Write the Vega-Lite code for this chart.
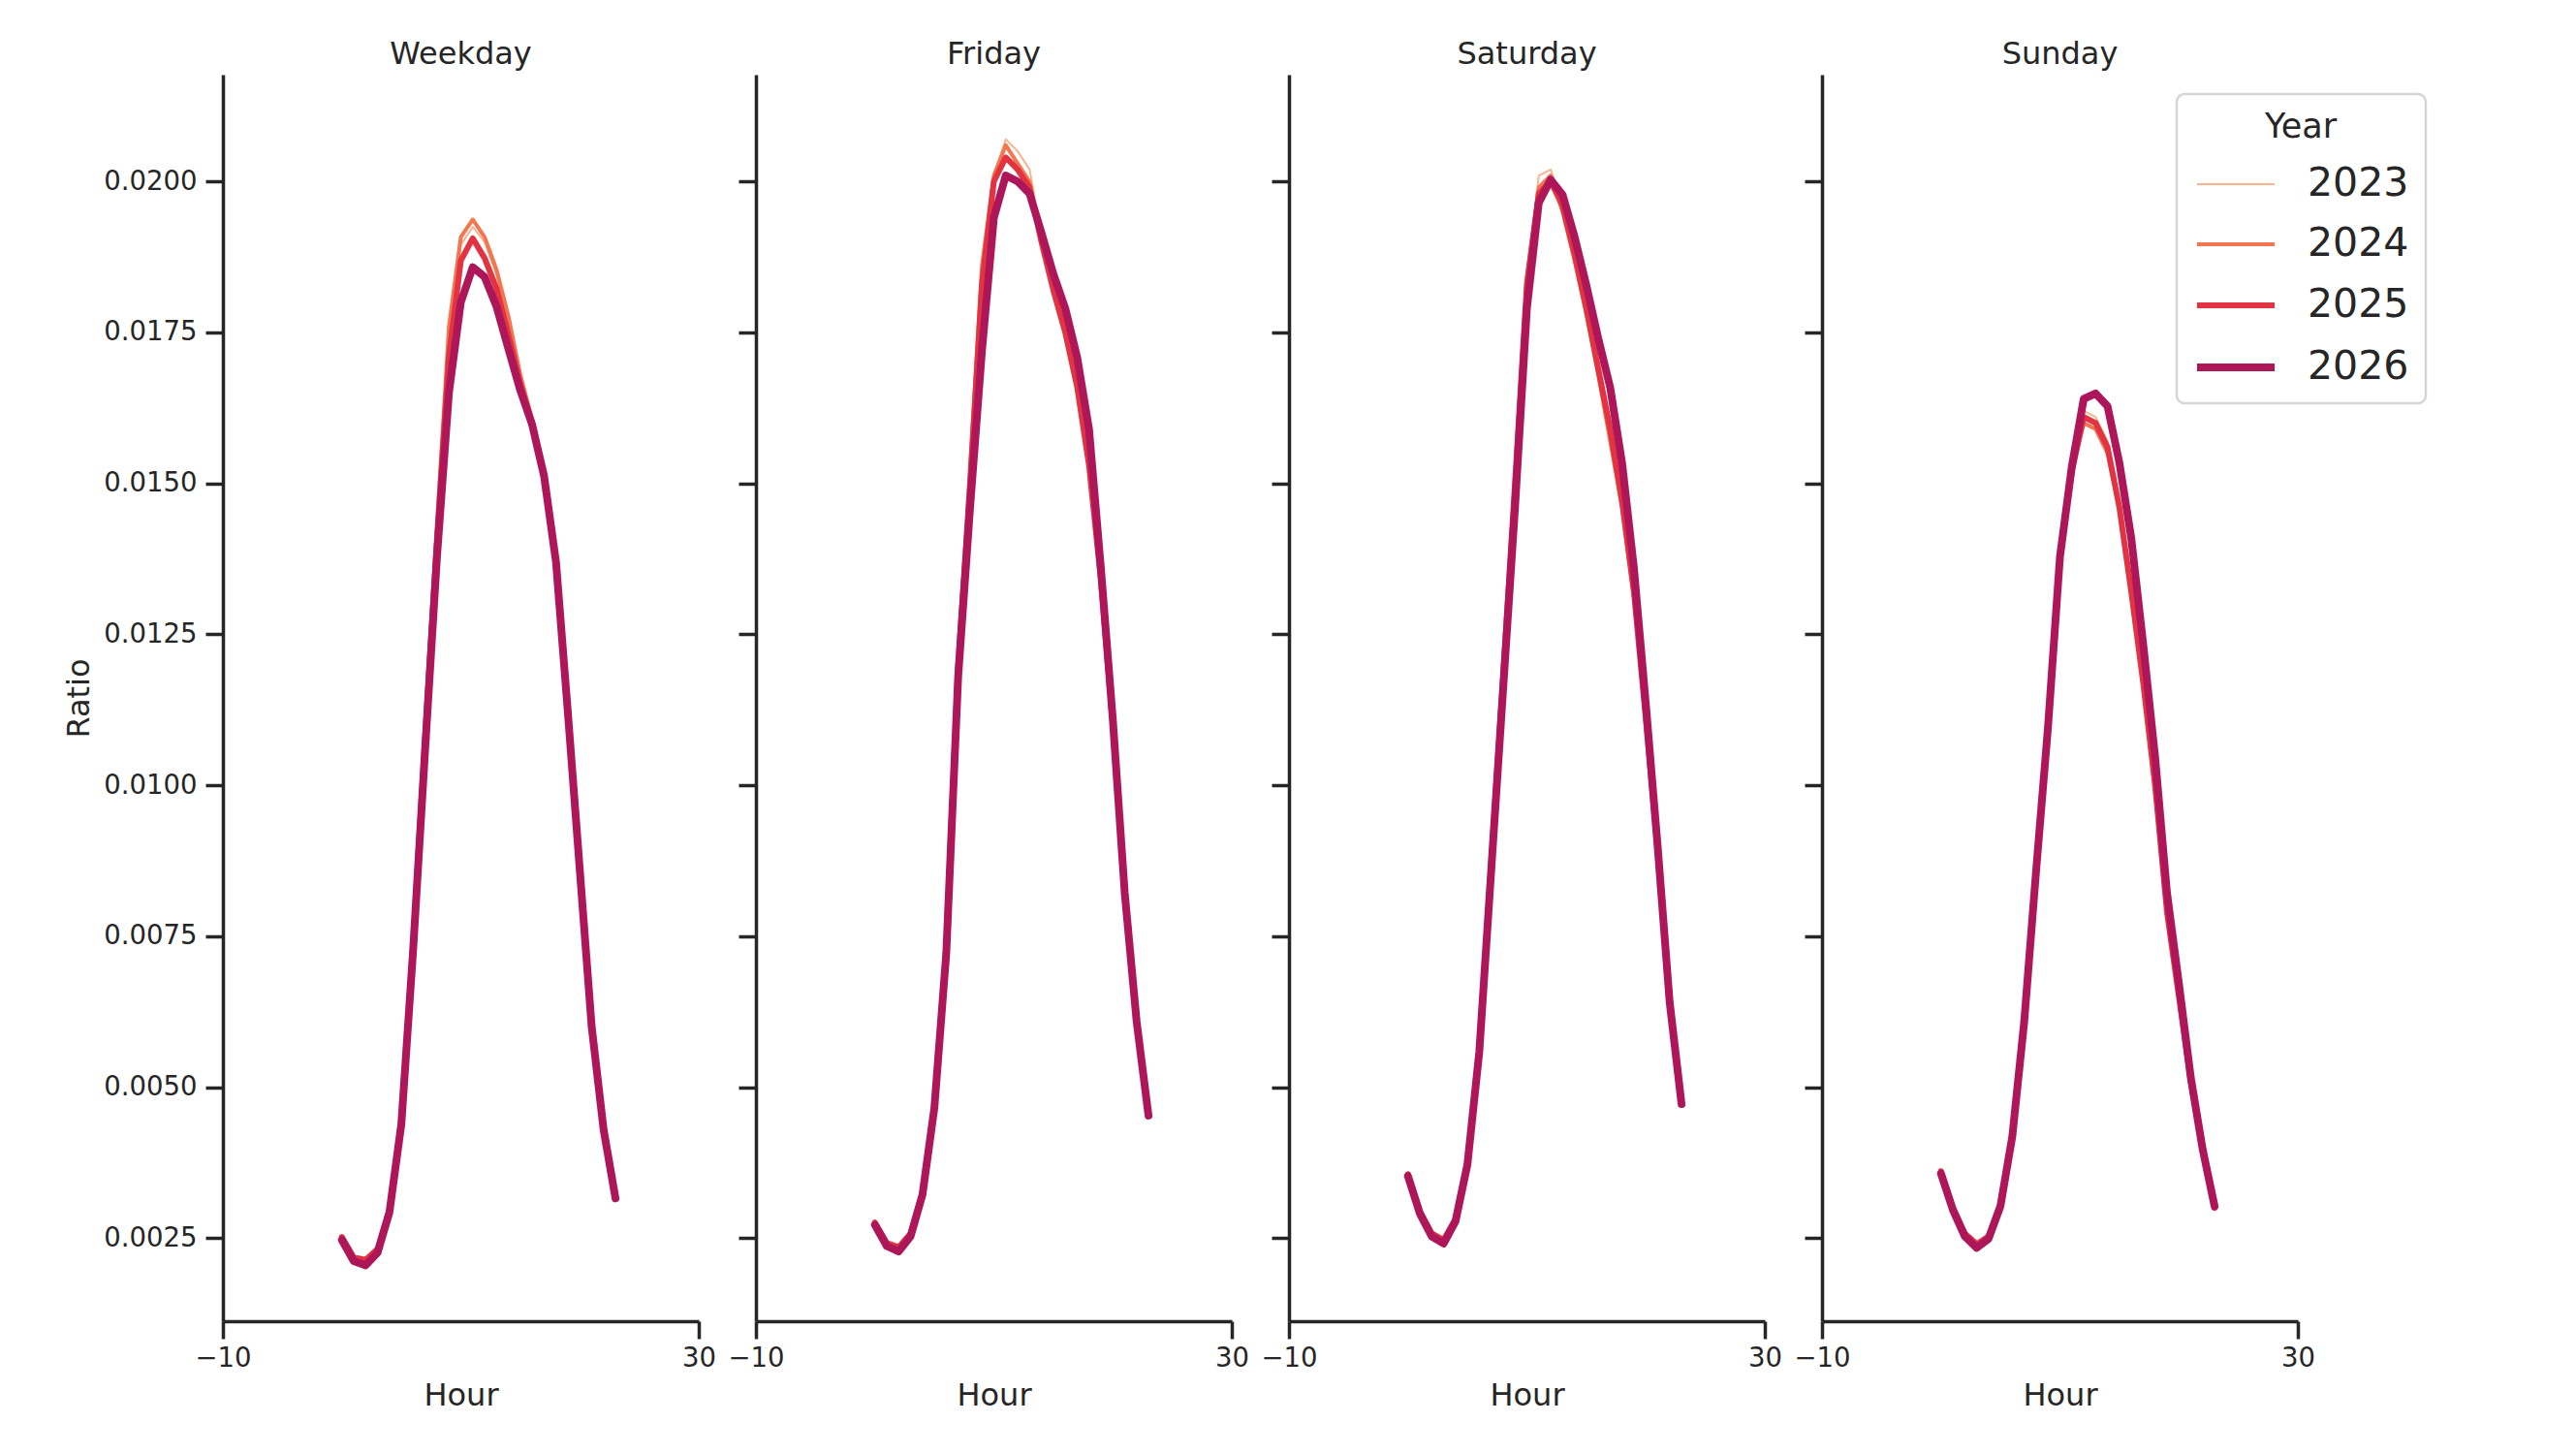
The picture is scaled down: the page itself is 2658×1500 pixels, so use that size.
{
  "$schema": "https://vega.github.io/schema/vega-lite/v6.json",
  "autosize": {"type": "none"},
  "padding": {"left": 230, "top": 77, "right": 2428, "bottom": 1423},
  "background": "white",
  "data": {
    "values": [
      {"Day": "Weekday", "Year": 2023, "Hour": 0, "Ratio": 0.00251}, {"Day": "Weekday", "Year": 2023, "Hour": 1, "Ratio": 0.00217}, {"Day": "Weekday", "Year": 2023, "Hour": 2, "Ratio": 0.00213}, {"Day": "Weekday", "Year": 2023, "Hour": 3, "Ratio": 0.00231}, {"Day": "Weekday", "Year": 2023, "Hour": 4, "Ratio": 0.00297}, {"Day": "Weekday", "Year": 2023, "Hour": 5, "Ratio": 0.00441}, {"Day": "Weekday", "Year": 2023, "Hour": 6, "Ratio": 0.0075}, {"Day": "Weekday", "Year": 2023, "Hour": 7, "Ratio": 0.0109}, {"Day": "Weekday", "Year": 2023, "Hour": 8, "Ratio": 0.0142}, {"Day": "Weekday", "Year": 2023, "Hour": 9, "Ratio": 0.0174}, {"Day": "Weekday", "Year": 2023, "Hour": 10, "Ratio": 0.01895}, {"Day": "Weekday", "Year": 2023, "Hour": 11, "Ratio": 0.01925}, {"Day": "Weekday", "Year": 2023, "Hour": 12, "Ratio": 0.019}, {"Day": "Weekday", "Year": 2023, "Hour": 13, "Ratio": 0.01845}, {"Day": "Weekday", "Year": 2023, "Hour": 14, "Ratio": 0.0177}, {"Day": "Weekday", "Year": 2023, "Hour": 15, "Ratio": 0.01675}, {"Day": "Weekday", "Year": 2023, "Hour": 16, "Ratio": 0.01603}, {"Day": "Weekday", "Year": 2023, "Hour": 17, "Ratio": 0.01514}, {"Day": "Weekday", "Year": 2023, "Hour": 18, "Ratio": 0.0137}, {"Day": "Weekday", "Year": 2023, "Hour": 19, "Ratio": 0.0112}, {"Day": "Weekday", "Year": 2023, "Hour": 20, "Ratio": 0.0086}, {"Day": "Weekday", "Year": 2023, "Hour": 21, "Ratio": 0.006}, {"Day": "Weekday", "Year": 2023, "Hour": 22, "Ratio": 0.0043}, {"Day": "Weekday", "Year": 2023, "Hour": 23, "Ratio": 0.00317},
      {"Day": "Weekday", "Year": 2024, "Hour": 0, "Ratio": 0.0025}, {"Day": "Weekday", "Year": 2024, "Hour": 1, "Ratio": 0.00216}, {"Day": "Weekday", "Year": 2024, "Hour": 2, "Ratio": 0.00212}, {"Day": "Weekday", "Year": 2024, "Hour": 3, "Ratio": 0.0023}, {"Day": "Weekday", "Year": 2024, "Hour": 4, "Ratio": 0.00296}, {"Day": "Weekday", "Year": 2024, "Hour": 5, "Ratio": 0.0044}, {"Day": "Weekday", "Year": 2024, "Hour": 6, "Ratio": 0.0075}, {"Day": "Weekday", "Year": 2024, "Hour": 7, "Ratio": 0.011}, {"Day": "Weekday", "Year": 2024, "Hour": 8, "Ratio": 0.0143}, {"Day": "Weekday", "Year": 2024, "Hour": 9, "Ratio": 0.0176}, {"Day": "Weekday", "Year": 2024, "Hour": 10, "Ratio": 0.01908}, {"Day": "Weekday", "Year": 2024, "Hour": 11, "Ratio": 0.01937}, {"Day": "Weekday", "Year": 2024, "Hour": 12, "Ratio": 0.01908}, {"Day": "Weekday", "Year": 2024, "Hour": 13, "Ratio": 0.01854}, {"Day": "Weekday", "Year": 2024, "Hour": 14, "Ratio": 0.01777}, {"Day": "Weekday", "Year": 2024, "Hour": 15, "Ratio": 0.0168}, {"Day": "Weekday", "Year": 2024, "Hour": 16, "Ratio": 0.01605}, {"Day": "Weekday", "Year": 2024, "Hour": 17, "Ratio": 0.01515}, {"Day": "Weekday", "Year": 2024, "Hour": 18, "Ratio": 0.0137}, {"Day": "Weekday", "Year": 2024, "Hour": 19, "Ratio": 0.0112}, {"Day": "Weekday", "Year": 2024, "Hour": 20, "Ratio": 0.0086}, {"Day": "Weekday", "Year": 2024, "Hour": 21, "Ratio": 0.006}, {"Day": "Weekday", "Year": 2024, "Hour": 22, "Ratio": 0.0043}, {"Day": "Weekday", "Year": 2024, "Hour": 23, "Ratio": 0.00318},
      {"Day": "Weekday", "Year": 2025, "Hour": 0, "Ratio": 0.00252}, {"Day": "Weekday", "Year": 2025, "Hour": 1, "Ratio": 0.00218}, {"Day": "Weekday", "Year": 2025, "Hour": 2, "Ratio": 0.00214}, {"Day": "Weekday", "Year": 2025, "Hour": 3, "Ratio": 0.00232}, {"Day": "Weekday", "Year": 2025, "Hour": 4, "Ratio": 0.00297}, {"Day": "Weekday", "Year": 2025, "Hour": 5, "Ratio": 0.00442}, {"Day": "Weekday", "Year": 2025, "Hour": 6, "Ratio": 0.0074}, {"Day": "Weekday", "Year": 2025, "Hour": 7, "Ratio": 0.0108}, {"Day": "Weekday", "Year": 2025, "Hour": 8, "Ratio": 0.0141}, {"Day": "Weekday", "Year": 2025, "Hour": 9, "Ratio": 0.0171}, {"Day": "Weekday", "Year": 2025, "Hour": 10, "Ratio": 0.01869}, {"Day": "Weekday", "Year": 2025, "Hour": 11, "Ratio": 0.01906}, {"Day": "Weekday", "Year": 2025, "Hour": 12, "Ratio": 0.01873}, {"Day": "Weekday", "Year": 2025, "Hour": 13, "Ratio": 0.01823}, {"Day": "Weekday", "Year": 2025, "Hour": 14, "Ratio": 0.01746}, {"Day": "Weekday", "Year": 2025, "Hour": 15, "Ratio": 0.01665}, {"Day": "Weekday", "Year": 2025, "Hour": 16, "Ratio": 0.016}, {"Day": "Weekday", "Year": 2025, "Hour": 17, "Ratio": 0.01512}, {"Day": "Weekday", "Year": 2025, "Hour": 18, "Ratio": 0.0137}, {"Day": "Weekday", "Year": 2025, "Hour": 19, "Ratio": 0.0112}, {"Day": "Weekday", "Year": 2025, "Hour": 20, "Ratio": 0.0086}, {"Day": "Weekday", "Year": 2025, "Hour": 21, "Ratio": 0.006}, {"Day": "Weekday", "Year": 2025, "Hour": 22, "Ratio": 0.0043}, {"Day": "Weekday", "Year": 2025, "Hour": 23, "Ratio": 0.00318},
      {"Day": "Weekday", "Year": 2026, "Hour": 0, "Ratio": 0.00247}, {"Day": "Weekday", "Year": 2026, "Hour": 1, "Ratio": 0.00212}, {"Day": "Weekday", "Year": 2026, "Hour": 2, "Ratio": 0.00205}, {"Day": "Weekday", "Year": 2026, "Hour": 3, "Ratio": 0.00226}, {"Day": "Weekday", "Year": 2026, "Hour": 4, "Ratio": 0.00293}, {"Day": "Weekday", "Year": 2026, "Hour": 5, "Ratio": 0.00439}, {"Day": "Weekday", "Year": 2026, "Hour": 6, "Ratio": 0.0073}, {"Day": "Weekday", "Year": 2026, "Hour": 7, "Ratio": 0.0106}, {"Day": "Weekday", "Year": 2026, "Hour": 8, "Ratio": 0.0138}, {"Day": "Weekday", "Year": 2026, "Hour": 9, "Ratio": 0.0165}, {"Day": "Weekday", "Year": 2026, "Hour": 10, "Ratio": 0.018}, {"Day": "Weekday", "Year": 2026, "Hour": 11, "Ratio": 0.01858}, {"Day": "Weekday", "Year": 2026, "Hour": 12, "Ratio": 0.01842}, {"Day": "Weekday", "Year": 2026, "Hour": 13, "Ratio": 0.01793}, {"Day": "Weekday", "Year": 2026, "Hour": 14, "Ratio": 0.01723}, {"Day": "Weekday", "Year": 2026, "Hour": 15, "Ratio": 0.01654}, {"Day": "Weekday", "Year": 2026, "Hour": 16, "Ratio": 0.01597}, {"Day": "Weekday", "Year": 2026, "Hour": 17, "Ratio": 0.01512}, {"Day": "Weekday", "Year": 2026, "Hour": 18, "Ratio": 0.0137}, {"Day": "Weekday", "Year": 2026, "Hour": 19, "Ratio": 0.0112}, {"Day": "Weekday", "Year": 2026, "Hour": 20, "Ratio": 0.0086}, {"Day": "Weekday", "Year": 2026, "Hour": 21, "Ratio": 0.006}, {"Day": "Weekday", "Year": 2026, "Hour": 22, "Ratio": 0.0043}, {"Day": "Weekday", "Year": 2026, "Hour": 23, "Ratio": 0.00316},
      {"Day": "Friday", "Year": 2023, "Hour": 0, "Ratio": 0.00274}, {"Day": "Friday", "Year": 2023, "Hour": 1, "Ratio": 0.0024}, {"Day": "Friday", "Year": 2023, "Hour": 2, "Ratio": 0.00233}, {"Day": "Friday", "Year": 2023, "Hour": 3, "Ratio": 0.00256}, {"Day": "Friday", "Year": 2023, "Hour": 4, "Ratio": 0.00324}, {"Day": "Friday", "Year": 2023, "Hour": 5, "Ratio": 0.00468}, {"Day": "Friday", "Year": 2023, "Hour": 6, "Ratio": 0.0073}, {"Day": "Friday", "Year": 2023, "Hour": 7, "Ratio": 0.0121}, {"Day": "Friday", "Year": 2023, "Hour": 8, "Ratio": 0.0152}, {"Day": "Friday", "Year": 2023, "Hour": 9, "Ratio": 0.0187}, {"Day": "Friday", "Year": 2023, "Hour": 10, "Ratio": 0.0201}, {"Day": "Friday", "Year": 2023, "Hour": 11, "Ratio": 0.0207}, {"Day": "Friday", "Year": 2023, "Hour": 12, "Ratio": 0.0205}, {"Day": "Friday", "Year": 2023, "Hour": 13, "Ratio": 0.0202}, {"Day": "Friday", "Year": 2023, "Hour": 14, "Ratio": 0.0191}, {"Day": "Friday", "Year": 2023, "Hour": 15, "Ratio": 0.0182}, {"Day": "Friday", "Year": 2023, "Hour": 16, "Ratio": 0.0175}, {"Day": "Friday", "Year": 2023, "Hour": 17, "Ratio": 0.0165}, {"Day": "Friday", "Year": 2023, "Hour": 18, "Ratio": 0.0152}, {"Day": "Friday", "Year": 2023, "Hour": 19, "Ratio": 0.0134}, {"Day": "Friday", "Year": 2023, "Hour": 20, "Ratio": 0.011}, {"Day": "Friday", "Year": 2023, "Hour": 21, "Ratio": 0.0082}, {"Day": "Friday", "Year": 2023, "Hour": 22, "Ratio": 0.0061}, {"Day": "Friday", "Year": 2023, "Hour": 23, "Ratio": 0.00454},
      {"Day": "Friday", "Year": 2024, "Hour": 0, "Ratio": 0.00275}, {"Day": "Friday", "Year": 2024, "Hour": 1, "Ratio": 0.00241}, {"Day": "Friday", "Year": 2024, "Hour": 2, "Ratio": 0.00234}, {"Day": "Friday", "Year": 2024, "Hour": 3, "Ratio": 0.00257}, {"Day": "Friday", "Year": 2024, "Hour": 4, "Ratio": 0.00325}, {"Day": "Friday", "Year": 2024, "Hour": 5, "Ratio": 0.00469}, {"Day": "Friday", "Year": 2024, "Hour": 6, "Ratio": 0.0073}, {"Day": "Friday", "Year": 2024, "Hour": 7, "Ratio": 0.0121}, {"Day": "Friday", "Year": 2024, "Hour": 8, "Ratio": 0.0152}, {"Day": "Friday", "Year": 2024, "Hour": 9, "Ratio": 0.0186}, {"Day": "Friday", "Year": 2024, "Hour": 10, "Ratio": 0.0201}, {"Day": "Friday", "Year": 2024, "Hour": 11, "Ratio": 0.0206}, {"Day": "Friday", "Year": 2024, "Hour": 12, "Ratio": 0.0203}, {"Day": "Friday", "Year": 2024, "Hour": 13, "Ratio": 0.02}, {"Day": "Friday", "Year": 2024, "Hour": 14, "Ratio": 0.019}, {"Day": "Friday", "Year": 2024, "Hour": 15, "Ratio": 0.0182}, {"Day": "Friday", "Year": 2024, "Hour": 16, "Ratio": 0.0175}, {"Day": "Friday", "Year": 2024, "Hour": 17, "Ratio": 0.0166}, {"Day": "Friday", "Year": 2024, "Hour": 18, "Ratio": 0.0153}, {"Day": "Friday", "Year": 2024, "Hour": 19, "Ratio": 0.0134}, {"Day": "Friday", "Year": 2024, "Hour": 20, "Ratio": 0.011}, {"Day": "Friday", "Year": 2024, "Hour": 21, "Ratio": 0.0082}, {"Day": "Friday", "Year": 2024, "Hour": 22, "Ratio": 0.0061}, {"Day": "Friday", "Year": 2024, "Hour": 23, "Ratio": 0.00455},
      {"Day": "Friday", "Year": 2025, "Hour": 0, "Ratio": 0.00276}, {"Day": "Friday", "Year": 2025, "Hour": 1, "Ratio": 0.00242}, {"Day": "Friday", "Year": 2025, "Hour": 2, "Ratio": 0.00235}, {"Day": "Friday", "Year": 2025, "Hour": 3, "Ratio": 0.00258}, {"Day": "Friday", "Year": 2025, "Hour": 4, "Ratio": 0.00326}, {"Day": "Friday", "Year": 2025, "Hour": 5, "Ratio": 0.0047}, {"Day": "Friday", "Year": 2025, "Hour": 6, "Ratio": 0.0073}, {"Day": "Friday", "Year": 2025, "Hour": 7, "Ratio": 0.012}, {"Day": "Friday", "Year": 2025, "Hour": 8, "Ratio": 0.015}, {"Day": "Friday", "Year": 2025, "Hour": 9, "Ratio": 0.0183}, {"Day": "Friday", "Year": 2025, "Hour": 10, "Ratio": 0.02}, {"Day": "Friday", "Year": 2025, "Hour": 11, "Ratio": 0.0204}, {"Day": "Friday", "Year": 2025, "Hour": 12, "Ratio": 0.0202}, {"Day": "Friday", "Year": 2025, "Hour": 13, "Ratio": 0.0199}, {"Day": "Friday", "Year": 2025, "Hour": 14, "Ratio": 0.019}, {"Day": "Friday", "Year": 2025, "Hour": 15, "Ratio": 0.0182}, {"Day": "Friday", "Year": 2025, "Hour": 16, "Ratio": 0.0175}, {"Day": "Friday", "Year": 2025, "Hour": 17, "Ratio": 0.0166}, {"Day": "Friday", "Year": 2025, "Hour": 18, "Ratio": 0.0153}, {"Day": "Friday", "Year": 2025, "Hour": 19, "Ratio": 0.0134}, {"Day": "Friday", "Year": 2025, "Hour": 20, "Ratio": 0.011}, {"Day": "Friday", "Year": 2025, "Hour": 21, "Ratio": 0.0082}, {"Day": "Friday", "Year": 2025, "Hour": 22, "Ratio": 0.0061}, {"Day": "Friday", "Year": 2025, "Hour": 23, "Ratio": 0.00455},
      {"Day": "Friday", "Year": 2026, "Hour": 0, "Ratio": 0.00272}, {"Day": "Friday", "Year": 2026, "Hour": 1, "Ratio": 0.00237}, {"Day": "Friday", "Year": 2026, "Hour": 2, "Ratio": 0.00228}, {"Day": "Friday", "Year": 2026, "Hour": 3, "Ratio": 0.00253}, {"Day": "Friday", "Year": 2026, "Hour": 4, "Ratio": 0.00322}, {"Day": "Friday", "Year": 2026, "Hour": 5, "Ratio": 0.00466}, {"Day": "Friday", "Year": 2026, "Hour": 6, "Ratio": 0.00722}, {"Day": "Friday", "Year": 2026, "Hour": 7, "Ratio": 0.0118}, {"Day": "Friday", "Year": 2026, "Hour": 8, "Ratio": 0.0146}, {"Day": "Friday", "Year": 2026, "Hour": 9, "Ratio": 0.0172}, {"Day": "Friday", "Year": 2026, "Hour": 10, "Ratio": 0.0194}, {"Day": "Friday", "Year": 2026, "Hour": 11, "Ratio": 0.0201}, {"Day": "Friday", "Year": 2026, "Hour": 12, "Ratio": 0.02}, {"Day": "Friday", "Year": 2026, "Hour": 13, "Ratio": 0.0198}, {"Day": "Friday", "Year": 2026, "Hour": 14, "Ratio": 0.01915}, {"Day": "Friday", "Year": 2026, "Hour": 15, "Ratio": 0.01847}, {"Day": "Friday", "Year": 2026, "Hour": 16, "Ratio": 0.0179}, {"Day": "Friday", "Year": 2026, "Hour": 17, "Ratio": 0.01709}, {"Day": "Friday", "Year": 2026, "Hour": 18, "Ratio": 0.0159}, {"Day": "Friday", "Year": 2026, "Hour": 19, "Ratio": 0.01359}, {"Day": "Friday", "Year": 2026, "Hour": 20, "Ratio": 0.01109}, {"Day": "Friday", "Year": 2026, "Hour": 21, "Ratio": 0.00822}, {"Day": "Friday", "Year": 2026, "Hour": 22, "Ratio": 0.00609}, {"Day": "Friday", "Year": 2026, "Hour": 23, "Ratio": 0.00453},
      {"Day": "Saturday", "Year": 2023, "Hour": 0, "Ratio": 0.00355}, {"Day": "Saturday", "Year": 2023, "Hour": 1, "Ratio": 0.00294}, {"Day": "Saturday", "Year": 2023, "Hour": 2, "Ratio": 0.00257}, {"Day": "Saturday", "Year": 2023, "Hour": 3, "Ratio": 0.00246}, {"Day": "Saturday", "Year": 2023, "Hour": 4, "Ratio": 0.00281}, {"Day": "Saturday", "Year": 2023, "Hour": 5, "Ratio": 0.00374}, {"Day": "Saturday", "Year": 2023, "Hour": 6, "Ratio": 0.0056}, {"Day": "Saturday", "Year": 2023, "Hour": 7, "Ratio": 0.0087}, {"Day": "Saturday", "Year": 2023, "Hour": 8, "Ratio": 0.0119}, {"Day": "Saturday", "Year": 2023, "Hour": 9, "Ratio": 0.0151}, {"Day": "Saturday", "Year": 2023, "Hour": 10, "Ratio": 0.0184}, {"Day": "Saturday", "Year": 2023, "Hour": 11, "Ratio": 0.0201}, {"Day": "Saturday", "Year": 2023, "Hour": 12, "Ratio": 0.0202}, {"Day": "Saturday", "Year": 2023, "Hour": 13, "Ratio": 0.0196}, {"Day": "Saturday", "Year": 2023, "Hour": 14, "Ratio": 0.0187}, {"Day": "Saturday", "Year": 2023, "Hour": 15, "Ratio": 0.0178}, {"Day": "Saturday", "Year": 2023, "Hour": 16, "Ratio": 0.0168}, {"Day": "Saturday", "Year": 2023, "Hour": 17, "Ratio": 0.0157}, {"Day": "Saturday", "Year": 2023, "Hour": 18, "Ratio": 0.0146}, {"Day": "Saturday", "Year": 2023, "Hour": 19, "Ratio": 0.0131}, {"Day": "Saturday", "Year": 2023, "Hour": 20, "Ratio": 0.0111}, {"Day": "Saturday", "Year": 2023, "Hour": 21, "Ratio": 0.0089}, {"Day": "Saturday", "Year": 2023, "Hour": 22, "Ratio": 0.0064}, {"Day": "Saturday", "Year": 2023, "Hour": 23, "Ratio": 0.00473},
      {"Day": "Saturday", "Year": 2024, "Hour": 0, "Ratio": 0.00356}, {"Day": "Saturday", "Year": 2024, "Hour": 1, "Ratio": 0.00295}, {"Day": "Saturday", "Year": 2024, "Hour": 2, "Ratio": 0.00258}, {"Day": "Saturday", "Year": 2024, "Hour": 3, "Ratio": 0.00247}, {"Day": "Saturday", "Year": 2024, "Hour": 4, "Ratio": 0.00282}, {"Day": "Saturday", "Year": 2024, "Hour": 5, "Ratio": 0.00375}, {"Day": "Saturday", "Year": 2024, "Hour": 6, "Ratio": 0.0056}, {"Day": "Saturday", "Year": 2024, "Hour": 7, "Ratio": 0.0087}, {"Day": "Saturday", "Year": 2024, "Hour": 8, "Ratio": 0.0119}, {"Day": "Saturday", "Year": 2024, "Hour": 9, "Ratio": 0.0151}, {"Day": "Saturday", "Year": 2024, "Hour": 10, "Ratio": 0.0184}, {"Day": "Saturday", "Year": 2024, "Hour": 11, "Ratio": 0.0199}, {"Day": "Saturday", "Year": 2024, "Hour": 12, "Ratio": 0.0201}, {"Day": "Saturday", "Year": 2024, "Hour": 13, "Ratio": 0.0195}, {"Day": "Saturday", "Year": 2024, "Hour": 14, "Ratio": 0.0187}, {"Day": "Saturday", "Year": 2024, "Hour": 15, "Ratio": 0.0178}, {"Day": "Saturday", "Year": 2024, "Hour": 16, "Ratio": 0.0168}, {"Day": "Saturday", "Year": 2024, "Hour": 17, "Ratio": 0.0157}, {"Day": "Saturday", "Year": 2024, "Hour": 18, "Ratio": 0.0146}, {"Day": "Saturday", "Year": 2024, "Hour": 19, "Ratio": 0.0131}, {"Day": "Saturday", "Year": 2024, "Hour": 20, "Ratio": 0.0111}, {"Day": "Saturday", "Year": 2024, "Hour": 21, "Ratio": 0.0089}, {"Day": "Saturday", "Year": 2024, "Hour": 22, "Ratio": 0.0064}, {"Day": "Saturday", "Year": 2024, "Hour": 23, "Ratio": 0.00473},
      {"Day": "Saturday", "Year": 2025, "Hour": 0, "Ratio": 0.00356}, {"Day": "Saturday", "Year": 2025, "Hour": 1, "Ratio": 0.00295}, {"Day": "Saturday", "Year": 2025, "Hour": 2, "Ratio": 0.00258}, {"Day": "Saturday", "Year": 2025, "Hour": 3, "Ratio": 0.00247}, {"Day": "Saturday", "Year": 2025, "Hour": 4, "Ratio": 0.00282}, {"Day": "Saturday", "Year": 2025, "Hour": 5, "Ratio": 0.00375}, {"Day": "Saturday", "Year": 2025, "Hour": 6, "Ratio": 0.0056}, {"Day": "Saturday", "Year": 2025, "Hour": 7, "Ratio": 0.0087}, {"Day": "Saturday", "Year": 2025, "Hour": 8, "Ratio": 0.0118}, {"Day": "Saturday", "Year": 2025, "Hour": 9, "Ratio": 0.015}, {"Day": "Saturday", "Year": 2025, "Hour": 10, "Ratio": 0.0183}, {"Day": "Saturday", "Year": 2025, "Hour": 11, "Ratio": 0.0198}, {"Day": "Saturday", "Year": 2025, "Hour": 12, "Ratio": 0.02}, {"Day": "Saturday", "Year": 2025, "Hour": 13, "Ratio": 0.0196}, {"Day": "Saturday", "Year": 2025, "Hour": 14, "Ratio": 0.0188}, {"Day": "Saturday", "Year": 2025, "Hour": 15, "Ratio": 0.0179}, {"Day": "Saturday", "Year": 2025, "Hour": 16, "Ratio": 0.0169}, {"Day": "Saturday", "Year": 2025, "Hour": 17, "Ratio": 0.0159}, {"Day": "Saturday", "Year": 2025, "Hour": 18, "Ratio": 0.0147}, {"Day": "Saturday", "Year": 2025, "Hour": 19, "Ratio": 0.0132}, {"Day": "Saturday", "Year": 2025, "Hour": 20, "Ratio": 0.0111}, {"Day": "Saturday", "Year": 2025, "Hour": 21, "Ratio": 0.0089}, {"Day": "Saturday", "Year": 2025, "Hour": 22, "Ratio": 0.0064}, {"Day": "Saturday", "Year": 2025, "Hour": 23, "Ratio": 0.00472},
      {"Day": "Saturday", "Year": 2026, "Hour": 0, "Ratio": 0.00353}, {"Day": "Saturday", "Year": 2026, "Hour": 1, "Ratio": 0.00291}, {"Day": "Saturday", "Year": 2026, "Hour": 2, "Ratio": 0.00253}, {"Day": "Saturday", "Year": 2026, "Hour": 3, "Ratio": 0.00241}, {"Day": "Saturday", "Year": 2026, "Hour": 4, "Ratio": 0.00278}, {"Day": "Saturday", "Year": 2026, "Hour": 5, "Ratio": 0.00372}, {"Day": "Saturday", "Year": 2026, "Hour": 6, "Ratio": 0.00559}, {"Day": "Saturday", "Year": 2026, "Hour": 7, "Ratio": 0.00859}, {"Day": "Saturday", "Year": 2026, "Hour": 8, "Ratio": 0.01159}, {"Day": "Saturday", "Year": 2026, "Hour": 9, "Ratio": 0.0146}, {"Day": "Saturday", "Year": 2026, "Hour": 10, "Ratio": 0.0179}, {"Day": "Saturday", "Year": 2026, "Hour": 11, "Ratio": 0.01965}, {"Day": "Saturday", "Year": 2026, "Hour": 12, "Ratio": 0.02003}, {"Day": "Saturday", "Year": 2026, "Hour": 13, "Ratio": 0.01978}, {"Day": "Saturday", "Year": 2026, "Hour": 14, "Ratio": 0.01909}, {"Day": "Saturday", "Year": 2026, "Hour": 15, "Ratio": 0.01828}, {"Day": "Saturday", "Year": 2026, "Hour": 16, "Ratio": 0.0174}, {"Day": "Saturday", "Year": 2026, "Hour": 17, "Ratio": 0.01659}, {"Day": "Saturday", "Year": 2026, "Hour": 18, "Ratio": 0.01534}, {"Day": "Saturday", "Year": 2026, "Hour": 19, "Ratio": 0.01359}, {"Day": "Saturday", "Year": 2026, "Hour": 20, "Ratio": 0.01134}, {"Day": "Saturday", "Year": 2026, "Hour": 21, "Ratio": 0.00897}, {"Day": "Saturday", "Year": 2026, "Hour": 22, "Ratio": 0.00641}, {"Day": "Saturday", "Year": 2026, "Hour": 23, "Ratio": 0.00472},
      {"Day": "Sunday", "Year": 2023, "Hour": 0, "Ratio": 0.0036}, {"Day": "Sunday", "Year": 2023, "Hour": 1, "Ratio": 0.003}, {"Day": "Sunday", "Year": 2023, "Hour": 2, "Ratio": 0.00257}, {"Day": "Sunday", "Year": 2023, "Hour": 3, "Ratio": 0.00238}, {"Day": "Sunday", "Year": 2023, "Hour": 4, "Ratio": 0.00252}, {"Day": "Sunday", "Year": 2023, "Hour": 5, "Ratio": 0.00306}, {"Day": "Sunday", "Year": 2023, "Hour": 6, "Ratio": 0.0042}, {"Day": "Sunday", "Year": 2023, "Hour": 7, "Ratio": 0.0061}, {"Day": "Sunday", "Year": 2023, "Hour": 8, "Ratio": 0.0086}, {"Day": "Sunday", "Year": 2023, "Hour": 9, "Ratio": 0.011}, {"Day": "Sunday", "Year": 2023, "Hour": 10, "Ratio": 0.0138}, {"Day": "Sunday", "Year": 2023, "Hour": 11, "Ratio": 0.0153}, {"Day": "Sunday", "Year": 2023, "Hour": 12, "Ratio": 0.0162}, {"Day": "Sunday", "Year": 2023, "Hour": 13, "Ratio": 0.0161}, {"Day": "Sunday", "Year": 2023, "Hour": 14, "Ratio": 0.0157}, {"Day": "Sunday", "Year": 2023, "Hour": 15, "Ratio": 0.0146}, {"Day": "Sunday", "Year": 2023, "Hour": 16, "Ratio": 0.0133}, {"Day": "Sunday", "Year": 2023, "Hour": 17, "Ratio": 0.0117}, {"Day": "Sunday", "Year": 2023, "Hour": 18, "Ratio": 0.0099}, {"Day": "Sunday", "Year": 2023, "Hour": 19, "Ratio": 0.0079}, {"Day": "Sunday", "Year": 2023, "Hour": 20, "Ratio": 0.0065}, {"Day": "Sunday", "Year": 2023, "Hour": 21, "Ratio": 0.0051}, {"Day": "Sunday", "Year": 2023, "Hour": 22, "Ratio": 0.0039}, {"Day": "Sunday", "Year": 2023, "Hour": 23, "Ratio": 0.003},
      {"Day": "Sunday", "Year": 2024, "Hour": 0, "Ratio": 0.0036}, {"Day": "Sunday", "Year": 2024, "Hour": 1, "Ratio": 0.003}, {"Day": "Sunday", "Year": 2024, "Hour": 2, "Ratio": 0.00258}, {"Day": "Sunday", "Year": 2024, "Hour": 3, "Ratio": 0.00239}, {"Day": "Sunday", "Year": 2024, "Hour": 4, "Ratio": 0.00253}, {"Day": "Sunday", "Year": 2024, "Hour": 5, "Ratio": 0.00306}, {"Day": "Sunday", "Year": 2024, "Hour": 6, "Ratio": 0.0042}, {"Day": "Sunday", "Year": 2024, "Hour": 7, "Ratio": 0.0061}, {"Day": "Sunday", "Year": 2024, "Hour": 8, "Ratio": 0.0086}, {"Day": "Sunday", "Year": 2024, "Hour": 9, "Ratio": 0.011}, {"Day": "Sunday", "Year": 2024, "Hour": 10, "Ratio": 0.0138}, {"Day": "Sunday", "Year": 2024, "Hour": 11, "Ratio": 0.0152}, {"Day": "Sunday", "Year": 2024, "Hour": 12, "Ratio": 0.016}, {"Day": "Sunday", "Year": 2024, "Hour": 13, "Ratio": 0.0159}, {"Day": "Sunday", "Year": 2024, "Hour": 14, "Ratio": 0.0155}, {"Day": "Sunday", "Year": 2024, "Hour": 15, "Ratio": 0.0146}, {"Day": "Sunday", "Year": 2024, "Hour": 16, "Ratio": 0.0133}, {"Day": "Sunday", "Year": 2024, "Hour": 17, "Ratio": 0.0117}, {"Day": "Sunday", "Year": 2024, "Hour": 18, "Ratio": 0.0099}, {"Day": "Sunday", "Year": 2024, "Hour": 19, "Ratio": 0.0079}, {"Day": "Sunday", "Year": 2024, "Hour": 20, "Ratio": 0.0065}, {"Day": "Sunday", "Year": 2024, "Hour": 21, "Ratio": 0.0051}, {"Day": "Sunday", "Year": 2024, "Hour": 22, "Ratio": 0.0039}, {"Day": "Sunday", "Year": 2024, "Hour": 23, "Ratio": 0.003},
      {"Day": "Sunday", "Year": 2025, "Hour": 0, "Ratio": 0.00361}, {"Day": "Sunday", "Year": 2025, "Hour": 1, "Ratio": 0.00301}, {"Day": "Sunday", "Year": 2025, "Hour": 2, "Ratio": 0.00258}, {"Day": "Sunday", "Year": 2025, "Hour": 3, "Ratio": 0.0024}, {"Day": "Sunday", "Year": 2025, "Hour": 4, "Ratio": 0.00253}, {"Day": "Sunday", "Year": 2025, "Hour": 5, "Ratio": 0.00307}, {"Day": "Sunday", "Year": 2025, "Hour": 6, "Ratio": 0.0042}, {"Day": "Sunday", "Year": 2025, "Hour": 7, "Ratio": 0.0061}, {"Day": "Sunday", "Year": 2025, "Hour": 8, "Ratio": 0.0086}, {"Day": "Sunday", "Year": 2025, "Hour": 9, "Ratio": 0.011}, {"Day": "Sunday", "Year": 2025, "Hour": 10, "Ratio": 0.0138}, {"Day": "Sunday", "Year": 2025, "Hour": 11, "Ratio": 0.0152}, {"Day": "Sunday", "Year": 2025, "Hour": 12, "Ratio": 0.0161}, {"Day": "Sunday", "Year": 2025, "Hour": 13, "Ratio": 0.016}, {"Day": "Sunday", "Year": 2025, "Hour": 14, "Ratio": 0.0156}, {"Day": "Sunday", "Year": 2025, "Hour": 15, "Ratio": 0.0146}, {"Day": "Sunday", "Year": 2025, "Hour": 16, "Ratio": 0.0132}, {"Day": "Sunday", "Year": 2025, "Hour": 17, "Ratio": 0.0117}, {"Day": "Sunday", "Year": 2025, "Hour": 18, "Ratio": 0.01}, {"Day": "Sunday", "Year": 2025, "Hour": 19, "Ratio": 0.0079}, {"Day": "Sunday", "Year": 2025, "Hour": 20, "Ratio": 0.0065}, {"Day": "Sunday", "Year": 2025, "Hour": 21, "Ratio": 0.0051}, {"Day": "Sunday", "Year": 2025, "Hour": 22, "Ratio": 0.004}, {"Day": "Sunday", "Year": 2025, "Hour": 23, "Ratio": 0.003},
      {"Day": "Sunday", "Year": 2026, "Hour": 0, "Ratio": 0.00357}, {"Day": "Sunday", "Year": 2026, "Hour": 1, "Ratio": 0.00297}, {"Day": "Sunday", "Year": 2026, "Hour": 2, "Ratio": 0.00253}, {"Day": "Sunday", "Year": 2026, "Hour": 3, "Ratio": 0.00234}, {"Day": "Sunday", "Year": 2026, "Hour": 4, "Ratio": 0.00249}, {"Day": "Sunday", "Year": 2026, "Hour": 5, "Ratio": 0.00303}, {"Day": "Sunday", "Year": 2026, "Hour": 6, "Ratio": 0.00419}, {"Day": "Sunday", "Year": 2026, "Hour": 7, "Ratio": 0.00609}, {"Day": "Sunday", "Year": 2026, "Hour": 8, "Ratio": 0.00859}, {"Day": "Sunday", "Year": 2026, "Hour": 9, "Ratio": 0.01097}, {"Day": "Sunday", "Year": 2026, "Hour": 10, "Ratio": 0.01378}, {"Day": "Sunday", "Year": 2026, "Hour": 11, "Ratio": 0.01528}, {"Day": "Sunday", "Year": 2026, "Hour": 12, "Ratio": 0.0164}, {"Day": "Sunday", "Year": 2026, "Hour": 13, "Ratio": 0.01649}, {"Day": "Sunday", "Year": 2026, "Hour": 14, "Ratio": 0.01628}, {"Day": "Sunday", "Year": 2026, "Hour": 15, "Ratio": 0.01534}, {"Day": "Sunday", "Year": 2026, "Hour": 16, "Ratio": 0.01409}, {"Day": "Sunday", "Year": 2026, "Hour": 17, "Ratio": 0.01234}, {"Day": "Sunday", "Year": 2026, "Hour": 18, "Ratio": 0.01047}, {"Day": "Sunday", "Year": 2026, "Hour": 19, "Ratio": 0.00822}, {"Day": "Sunday", "Year": 2026, "Hour": 20, "Ratio": 0.00672}, {"Day": "Sunday", "Year": 2026, "Hour": 21, "Ratio": 0.00516}, {"Day": "Sunday", "Year": 2026, "Hour": 22, "Ratio": 0.00397}, {"Day": "Sunday", "Year": 2026, "Hour": 23, "Ratio": 0.00303}
    ]
  },
  "spacing": 59,
  "bounds": "flush",
  "hconcat": [
    {
      "width": 491, "height": 1286,
      "title": "Weekday",
      "transform": [{"filter": "datum.Day === 'Weekday'"}],
      "mark": {"type": "line", "strokeCap": "round", "strokeJoin": "round"},
      "encoding": {
        "x": {"field": "Hour", "type": "quantitative", "scale": {"domain": [-10, 30], "nice": false}, "axis": {"values": [-10, 30], "title": "Hour"}},
        "y": {"field": "Ratio", "type": "quantitative", "scale": {"domain": [0.001125, 0.02177], "nice": false, "zero": false}, "axis": {"values": [0.0025, 0.005, 0.0075, 0.01, 0.0125, 0.015, 0.0175, 0.02], "format": ".4f", "title": "Ratio"}},
        "color": {"field": "Year", "type": "ordinal", "title": "Year", "scale": {"domain": [2023, 2024, 2025, 2026], "range": ["#f6b48f", "#f37651", "#e13342", "#ad1759"]}},
        "strokeWidth": {"field": "Year", "type": "ordinal", "title": "Year", "scale": {"type": "ordinal", "domain": [2023, 2024, 2025, 2026], "range": [2, 4, 6, 8]}}
      }
    },
    {
      "width": 491, "height": 1286,
      "title": "Friday",
      "transform": [{"filter": "datum.Day === 'Friday'"}],
      "mark": {"type": "line", "strokeCap": "round", "strokeJoin": "round"},
      "encoding": {
        "x": {"field": "Hour", "type": "quantitative", "scale": {"domain": [-10, 30], "nice": false}, "axis": {"values": [-10, 30], "title": "Hour"}},
        "y": {"field": "Ratio", "type": "quantitative", "scale": {"domain": [0.001125, 0.02177], "nice": false, "zero": false}, "axis": {"values": [0.0025, 0.005, 0.0075, 0.01, 0.0125, 0.015, 0.0175, 0.02], "labels": false, "title": null}},
        "color": {"field": "Year", "type": "ordinal", "title": "Year", "scale": {"domain": [2023, 2024, 2025, 2026], "range": ["#f6b48f", "#f37651", "#e13342", "#ad1759"]}},
        "strokeWidth": {"field": "Year", "type": "ordinal", "title": "Year", "scale": {"type": "ordinal", "domain": [2023, 2024, 2025, 2026], "range": [2, 4, 6, 8]}}
      }
    },
    {
      "width": 491, "height": 1286,
      "title": "Saturday",
      "transform": [{"filter": "datum.Day === 'Saturday'"}],
      "mark": {"type": "line", "strokeCap": "round", "strokeJoin": "round"},
      "encoding": {
        "x": {"field": "Hour", "type": "quantitative", "scale": {"domain": [-10, 30], "nice": false}, "axis": {"values": [-10, 30], "title": "Hour"}},
        "y": {"field": "Ratio", "type": "quantitative", "scale": {"domain": [0.001125, 0.02177], "nice": false, "zero": false}, "axis": {"values": [0.0025, 0.005, 0.0075, 0.01, 0.0125, 0.015, 0.0175, 0.02], "labels": false, "title": null}},
        "color": {"field": "Year", "type": "ordinal", "title": "Year", "scale": {"domain": [2023, 2024, 2025, 2026], "range": ["#f6b48f", "#f37651", "#e13342", "#ad1759"]}},
        "strokeWidth": {"field": "Year", "type": "ordinal", "title": "Year", "scale": {"type": "ordinal", "domain": [2023, 2024, 2025, 2026], "range": [2, 4, 6, 8]}}
      }
    },
    {
      "width": 491, "height": 1286,
      "title": "Sunday",
      "transform": [{"filter": "datum.Day === 'Sunday'"}],
      "mark": {"type": "line", "strokeCap": "round", "strokeJoin": "round"},
      "encoding": {
        "x": {"field": "Hour", "type": "quantitative", "scale": {"domain": [-10, 30], "nice": false}, "axis": {"values": [-10, 30], "title": "Hour"}},
        "y": {"field": "Ratio", "type": "quantitative", "scale": {"domain": [0.001125, 0.02177], "nice": false, "zero": false}, "axis": {"values": [0.0025, 0.005, 0.0075, 0.01, 0.0125, 0.015, 0.0175, 0.02], "labels": false, "title": null}},
        "color": {"field": "Year", "type": "ordinal", "title": "Year", "scale": {"domain": [2023, 2024, 2025, 2026], "range": ["#f6b48f", "#f37651", "#e13342", "#ad1759"]}},
        "strokeWidth": {"field": "Year", "type": "ordinal", "title": "Year", "scale": {"type": "ordinal", "domain": [2023, 2024, 2025, 2026], "range": [2, 4, 6, 8]}}
      }
    }
  ],
  "config": {
    "font": "DejaVu Sans",
    "view": {"stroke": null},
    "axis": {
      "grid": false,
      "domainColor": "#262626", "domainWidth": 3.5,
      "tickColor": "#262626", "tickWidth": 3.5, "tickSize": 18,
      "labelFontSize": 27.5, "labelColor": "#262626", "labelPadding": 9,
      "titleFontSize": 32, "titleFontWeight": "normal", "titleColor": "#262626"
    },
    "axisX": {"labelFlush": false, "labelOverlap": false, "labelPadding": 6, "titlePadding": 10},
    "axisY": {"titlePadding": 8},
    "title": {"fontSize": 32, "fontWeight": "normal", "color": "#262626", "baseline": "alphabetic", "offset": 4},
    "legend": {
      "orient": "none", "legendX": 2016, "legendY": 20,
      "titleFontSize": 35, "titleFontWeight": "normal", "titleColor": "#262626", "titleAnchor": "middle", "titlePadding": 0,
      "labelFontSize": 41, "labelColor": "#262626", "labelOffset": 30,
      "symbolType": "stroke", "symbolSize": 6400,
      "rowPadding": 0, "padding": 17,
      "strokeColor": "#d6d6d6", "strokeWidth": 2.5, "cornerRadius": 8, "fillColor": "white"
    }
  }
}
